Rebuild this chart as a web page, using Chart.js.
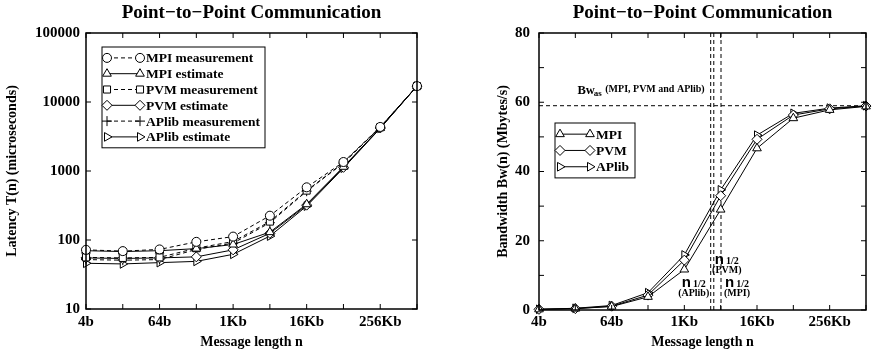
<!DOCTYPE html>
<html>
<head>
<meta charset="utf-8">
<script src="https://cdn.jsdelivr.net/npm/chart.js@4.4.1/dist/chart.umd.min.js"></script>
<style>
  html, body { margin: 0; padding: 0; background: #fff; }
  #wrap { position: relative; width: 872px; height: 353px; }
  #latency { position: absolute; left: 0; top: 0; }
  #bandwidth { position: absolute; left: 440px; top: 0; }
</style>
</head>
<body>
<div id="wrap">
  <canvas id="latency" width="440" height="353"></canvas>
  <canvas id="bandwidth" width="432" height="353"></canvas>
</div>
<script>
// message lengths in bytes, plotted on a log2 axis
const sizes = [4, 16, 64, 256, 1024, 4096, 16384, 65536, 262144, 1048576];
const xTickLabels = ["4b", "", "64b", "", "1Kb", "", "16Kb", "", "256Kb", ""];

// latency T(n) in microseconds
const mpiMeas = [72, 69, 73, 94, 112, 225, 580, 1350, 4350, 17000];
const mpiEst = [70, 68, 70, 75, 86, 130, 330, 1150, 4200, 17000];
const pvmMeas = [56, 55, 56, 76, 95, 185, 520, 1320, 4300, 17000];
const pvmEst = [55, 54, 55, 57, 72, 125, 320, 1130, 4200, 17000];
const aplibMeas = [52, 51, 52, 73, 90, 178, 510, 1300, 4300, 17000];
const aplibEst = [46, 45, 47, 49, 62, 114, 310, 1100, 4150, 17000];
const latencyTicks = [10, 100, 1000, 10000, 100000];

// bandwidth Bw(n) in Mbytes/s
const mpiBw = [0.2, 0.4, 1.0, 3.8, 11.7, 29.0, 46.7, 55.4, 57.8, 58.8];
const pvmBw = [0.2, 0.4, 1.1, 4.3, 14.4, 33.0, 49.3, 56.3, 58.1, 58.9];
const aplibBw = [0.2, 0.5, 1.3, 5.0, 15.9, 34.7, 50.5, 56.8, 58.3, 59.0];

// asymptotic bandwidth and half-performance lengths (bytes)
const bwAs = 59;
const nHalfNames = ["APlib", "PVM", "MPI"];
const nHalf = [2800, 3150, 4150];

const FONT = "'Liberation Serif', 'Times New Roman', serif";
Chart.defaults.font.family = FONT;
Chart.defaults.font.weight = "bold";
Chart.defaults.color = "#000";

const pts = (vals) => vals.map((v, i) => ({ x: Math.log2(sizes[i]), y: v }));

function series(label, vals, style, dashed, rotation) {
  return {
    label,
    data: pts(vals),
    borderColor: "#000",
    borderWidth: 1,
    borderDash: dashed ? [4, 3] : [],
    pointStyle: style,
    pointRotation: rotation || 0,
    pointRadius: style === "circle" ? 4.5 : 5,
    pointBackgroundColor: "#fff",
    pointBorderColor: "#000",
    pointBorderWidth: 1,
    tension: 0,
    clip: false,
  };
}

// inward tick marks on all four sides plus the frame
const frame = {
  id: "frame",
  afterDatasetsDraw(chart) {
    const { ctx, chartArea: a, scales } = chart;
    ctx.save();
    ctx.strokeStyle = "#000";
    ctx.lineWidth = 1;
    ctx.beginPath();
    scales.x.ticks.forEach((t) => {
      const px = scales.x.getPixelForValue(t.value);
      ctx.moveTo(px, a.bottom);
      ctx.lineTo(px, a.bottom - 5);
      ctx.moveTo(px, a.top);
      ctx.lineTo(px, a.top + 5);
    });
    scales.y.ticks.forEach((t) => {
      const py = scales.y.getPixelForValue(t.value);
      ctx.moveTo(a.left, py);
      ctx.lineTo(a.left + 5, py);
      ctx.moveTo(a.right, py);
      ctx.lineTo(a.right - 5, py);
    });
    ctx.stroke();
    ctx.lineWidth = 1.5;
    ctx.strokeRect(a.left, a.top, a.width, a.height);
    ctx.restore();
  },
};

// title centred over the plot area
const heading = {
  id: "heading",
  afterDraw(chart, args, opts) {
    const { ctx, chartArea: a } = chart;
    ctx.save();
    ctx.font = "bold 19px " + FONT;
    ctx.fillStyle = "#000";
    ctx.textAlign = "center";
    ctx.textBaseline = "alphabetic";
    ctx.fillText(opts.text, (a.left + a.right) / 2, 18);
    ctx.restore();
  },
};

// gnuplot-style key: sample line with a marker at each end
const key = {
  id: "key",
  afterDraw(chart, args, opts) {
    const { ctx, chartArea: a } = chart;
    const sets = chart.data.datasets;
    const x0 = a.left + opts.dx;
    const y0 = a.top + opts.dy;
    const h = opts.rowH * sets.length + 6;
    ctx.save();
    ctx.fillStyle = "#fff";
    ctx.fillRect(x0, y0, opts.width, h);
    ctx.strokeStyle = "#000";
    ctx.lineWidth = 1;
    ctx.strokeRect(x0, y0, opts.width, h);
    ctx.font = "bold 13.5px " + FONT;
    ctx.textBaseline = "middle";
    sets.forEach((ds, i) => {
      const y = y0 + 3 + opts.rowH * (i + 0.5);
      const xa = x0 + 5;
      const xb = xa + opts.sample;
      ctx.setLineDash(ds.borderDash);
      ctx.beginPath();
      ctx.moveTo(xa, y);
      ctx.lineTo(xb, y);
      ctx.stroke();
      ctx.setLineDash([]);
      ctx.fillStyle = "#fff";
      const p = { pointStyle: ds.pointStyle, radius: ds.pointRadius, rotation: ds.pointRotation, borderWidth: 1 };
      Chart.helpers.drawPoint(ctx, p, xa, y);
      Chart.helpers.drawPoint(ctx, p, xb, y);
      ctx.fillStyle = "#000";
      ctx.fillText(ds.label, xb + 6, y + 1);
    });
    ctx.restore();
  },
};

const xScale = (pad, height) => ({
  type: "linear",
  min: 2,
  max: 20,
  grid: { display: false, drawTicks: false },
  border: { display: false },
  afterFit: (s) => { s.height = height; },
  ticks: {
    stepSize: 2,
    padding: pad,
    autoSkip: false,
    maxRotation: 0,
    font: { size: 15, weight: "bold" },
    callback: (v) => {
      const i = sizes.findIndex((s) => Math.log2(s) === v);
      return i >= 0 ? xTickLabels[i] : "";
    },
  },
  title: {
    display: true,
    text: "Message length n",
    font: { size: 14, weight: "bold", lineHeight: 1 },
    padding: { top: 0, bottom: 4 },
  },
});

new Chart(document.getElementById("latency"), {
  type: "line",
  data: {
    datasets: [
      series("MPI measurement", mpiMeas, "circle", true),
      series("MPI estimate", mpiEst, "triangle", false),
      series("PVM measurement", pvmMeas, "rect", true),
      series("PVM estimate", pvmEst, "rectRot", false),
      series("APlib measurement", aplibMeas, "cross", true),
      series("APlib estimate", aplibEst, "triangle", false, 90),
    ],
  },
  options: {
    responsive: false,
    animation: false,
    layout: { padding: { left: 0, right: 23, top: 33, bottom: 0 } },
    plugins: {
      legend: { display: false },
      tooltip: { enabled: false },
      heading: { text: "Point\u2212to\u2212Point Communication" },
      key: { dx: 16, dy: 14, width: 163, rowH: 15.8, sample: 33 },
    },
    scales: {
      x: xScale(4, 44),
      y: {
        type: "logarithmic",
        min: 10,
        max: 100000,
        grid: { display: false, drawTicks: false },
        border: { display: false },
        afterFit: (s) => { s.width = 86; },
        afterBuildTicks: (s) => { s.ticks = latencyTicks.map((v) => ({ value: v })); },
        ticks: {
          padding: 6,
          font: { size: 15, weight: "bold" },
          callback: (v) => String(v),
        },
        title: {
          display: true,
          text: "Latency T(n) (microseconds)",
          font: { size: 14, weight: "bold", lineHeight: 1 },
          padding: { top: 5, bottom: 0 },
        },
      },
    },
  },
  plugins: [frame, heading, key],
});

// Bw_as line, n1/2 lines and their labels
const marks = {
  id: "marks",
  beforeDatasetsDraw(chart) {
    const { ctx, chartArea: a, scales } = chart;
    const yBw = scales.y.getPixelForValue(bwAs);
    const xs = nHalf.map((n) => scales.x.getPixelForValue(Math.log2(n)));
    ctx.save();
    ctx.strokeStyle = "#000";
    ctx.lineWidth = 1;
    ctx.setLineDash([4, 3]);
    ctx.beginPath();
    ctx.moveTo(a.left, yBw);
    ctx.lineTo(a.right, yBw);
    xs.forEach((x) => {
      ctx.moveTo(x, a.top);
      ctx.lineTo(x, a.bottom);
    });
    ctx.stroke();
    ctx.setLineDash([]);
    ctx.restore();
  },
  afterDraw(chart) {
    const { ctx, chartArea: a, scales } = chart;
    const yBw = scales.y.getPixelForValue(bwAs);
    const xs = nHalf.map((n) => scales.x.getPixelForValue(Math.log2(n)));
    ctx.save();
    ctx.fillStyle = "#000";
    ctx.textBaseline = "middle";
    // Bw_as label, ending just left of the first n1/2 line
    const big = "bold 12.5px " + FONT, sub = "bold 9px " + FONT, small = "bold 10px " + FONT;
    const tail = " (MPI, PVM and APlib)";
    ctx.font = small; const wTail = ctx.measureText(tail).width;
    ctx.font = sub; const wSub = ctx.measureText("as").width;
    ctx.font = big; const wBw = ctx.measureText("Bw").width;
    let x = xs[0] - 6 - wTail - wSub - wBw;
    const yl = yBw - 16;
    ctx.textAlign = "left";
    ctx.font = big; ctx.fillText("Bw", x, yl + 1); x += wBw;
    ctx.font = sub; ctx.fillText("as", x - 1, yl + 4); x += wSub;
    ctx.font = small; ctx.fillText(tail, x, yl);

    // n1/2 labels
    const spots = [
      { cx: xs[0] - 17, y: a.bottom - 27 },
      { cx: xs[1] + 13, y: a.bottom - 50 },
      { cx: xs[2] + 16, y: a.bottom - 27 },
    ];
    spots.forEach((s, i) => {
      const nf = "bold 15px 'Liberation Sans', Arial, sans-serif";
      ctx.font = nf; const wn = ctx.measureText("n").width;
      ctx.font = small; const wh = ctx.measureText("1/2").width;
      const x0 = s.cx - (wn + 2 + wh) / 2;
      ctx.textAlign = "left";
      ctx.font = nf; ctx.fillText("n", x0, s.y);
      ctx.font = small; ctx.fillText("1/2", x0 + wn + 2, s.y + 1);
      ctx.textAlign = "center";
      ctx.fillText("(" + nHalfNames[i] + ")", s.cx, s.y + 10);
    });
    ctx.restore();
  },
};

new Chart(document.getElementById("bandwidth"), {
  type: "line",
  data: {
    datasets: [
      series("MPI", mpiBw, "triangle", false),
      series("PVM", pvmBw, "rectRot", false),
      series("APlib", aplibBw, "triangle", false, 90),
    ],
  },
  options: {
    responsive: false,
    animation: false,
    layout: { padding: { left: 51, right: 2, top: 33, bottom: 0 } },
    plugins: {
      legend: { display: false },
      tooltip: { enabled: false },
      heading: { text: "Point\u2212to\u2212Point Communication" },
      key: { dx: 16, dy: 90, width: 80, rowH: 16.3, sample: 30 },
    },
    scales: {
      x: xScale(3, 43),
      y: {
        type: "linear",
        min: 0,
        max: 80,
        grid: { display: false, drawTicks: false },
        border: { display: false },
        afterFit: (s) => { s.width = 48; },
        ticks: {
          stepSize: 10,
          padding: 9,
          font: { size: 15, weight: "bold" },
          callback: (v) => (v % 20 === 0 ? String(v) : ""),
        },
        title: {
          display: true,
          text: "Bandwidth Bw(n) (Mbytes/s)",
          font: { size: 14, weight: "bold", lineHeight: 1 },
          padding: { top: 5, bottom: 0 },
        },
      },
    },
  },
  plugins: [frame, heading, key, marks],
});
</script>
</body>
</html>
